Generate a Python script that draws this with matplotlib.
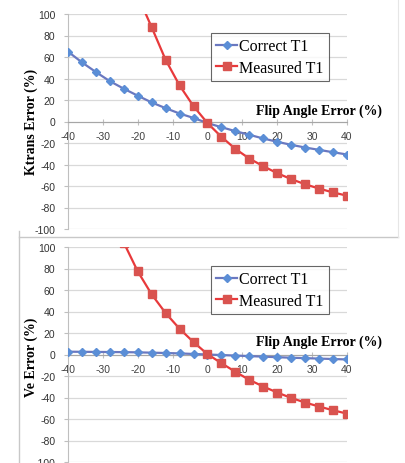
import numpy as np
import matplotlib.pyplot as plt
from matplotlib.lines import Line2D

plt.rcParams['axes.unicode_minus'] = False

# flip angle error (%)
flip = [-40, -36, -32, -28, -24, -20, -16, -12, -8, -4, 0,
        4, 8, 12, 16, 20, 24, 28, 32, 36, 40]

# Ktrans error (%)
ktrans_correct = [65, 55, 46, 37.5, 30.5, 24, 17.7, 12.4, 7.4, 3.3, -1.5,
                  -5.3, -9, -12.4, -15.8, -18.9, -21.7, -24.2, -26.4, -28.6, -30.7]
ktrans_measured = [np.nan, np.nan, np.nan, np.nan, np.nan, 117, 87.6, 57.3, 33.5, 14.2, -1.5,
                   -14.3, -25.5, -34.5, -41.6, -48.1, -53.6, -58.4, -62.4, -66, -69]

# Ve error (%)
ve_correct = [2.6, 2.5, 2.4, 2.3, 2.2, 2, 1.7, 1.4, 1, 0.5, 0,
              -0.5, -1, -1.5, -2, -2.5, -3, -3.4, -3.8, -4.2, -4.6]
ve_measured = [np.nan, np.nan, np.nan, np.nan, 104, 77.3, 55.9, 38.5, 23.9, 11.5, 0.3,
               -8.1, -16.1, -23.6, -29.8, -35.4, -40.4, -44.7, -48.4, -51.9, -55]

yticks = [-100, -80, -60, -40, -20, 0, 20, 40, 60, 80, 100]
xticks = [-40, -30, -20, -10, 0, 10, 20, 30, 40]

W, H = 406, 464
fig = plt.figure(figsize=(W / 100, H / 100), dpi=100)

blue_line = '#6a78c0'
blue_mk = '#5b8ed6'
red_line = '#e8393b'
red_mk = '#d9534f'
serif = 'Liberation Serif'


def px_axes(left, top, right, bottom):
    return fig.add_axes([left / W, 1 - bottom / H, (right - left) / W, (bottom - top) / H])


def setup(ax, correct, measured, ylabel, label_y, flip_y):
    ax.set_xlim(-40, 40)
    ax.set_ylim(-100, 100)
    for y in yticks:
        ax.axhline(y, color='#d9d9d9', lw=0.9, zorder=0)
    ax.plot(flip, correct, color=blue_line, lw=1.6, marker='D', ms=4.5,
            mfc=blue_mk, mec=blue_mk, label='Correct T1', zorder=3)
    ax.plot(flip, measured, color=red_line, lw=1.6, marker='s', ms=6,
            mfc=red_mk, mec=red_mk, label='Measured T1', zorder=4)
    for s in ['top', 'right']:
        ax.spines[s].set_visible(False)
    ax.spines['left'].set_color('#bfbfbf')
    ax.spines['bottom'].set_position(('data', 0))
    ax.spines['bottom'].set_color('#a6a6a6')
    ax.set_yticks(yticks)
    ax.set_xticks(xticks)
    ax.tick_params(axis='y', length=3, color='#bfbfbf', pad=6, labelsize=7.5, labelcolor='#333333')
    ax.tick_params(axis='x', length=4, direction='inout', color='#bfbfbf', pad=5,
                   labelsize=7.5, labelcolor='#404040')
    for lab in ax.get_xticklabels() + ax.get_yticklabels():
        lab.set_family('Liberation Sans')
    ax.text(32, flip_y, 'Flip Angle Error (%)', family=serif, fontweight='bold',
            fontsize=10, ha='center', va='center', clip_on=False)
    fig.text(31 / W, 1 - label_y / H, ylabel, family=serif, fontweight='bold',
             fontsize=10, rotation=90, ha='center', va='center')
    leg = ax.legend(loc='center', bbox_to_anchor=(0.724, 0.80), prop={'family': serif, 'size': 11.5},
                    frameon=True, fancybox=False, handlelength=1.3, handletextpad=0.15,
                    labelspacing=0.35, borderpad=0.35, borderaxespad=0)
    leg.get_frame().set_edgecolor('#404040')
    leg.get_frame().set_linewidth(0.8)
    ax.patch.set_alpha(0)


ax1 = px_axes(68, 15, 347, 230)
setup(ax1, ktrans_correct, ktrans_measured, 'Ktrans Error (%)', 122, 10)

ax2 = px_axes(68, 248, 347, 463)
setup(ax2, ve_correct, ve_measured, 'Ve Error (%)', 357, 12)

# chart borders
fig.add_artist(Line2D([19 / W, 398 / W], [1 - 238 / H, 1 - 238 / H], color='#c8c8c8', lw=1))
fig.add_artist(Line2D([19 / W, 19 / W], [1 - 232 / H, 0], color='#c8c8c8', lw=1))
fig.add_artist(Line2D([398 / W, 398 / W], [1, 1 - 238 / H], color='#e6e6e6', lw=0.8))

fig.savefig('out.png', dpi=100)
